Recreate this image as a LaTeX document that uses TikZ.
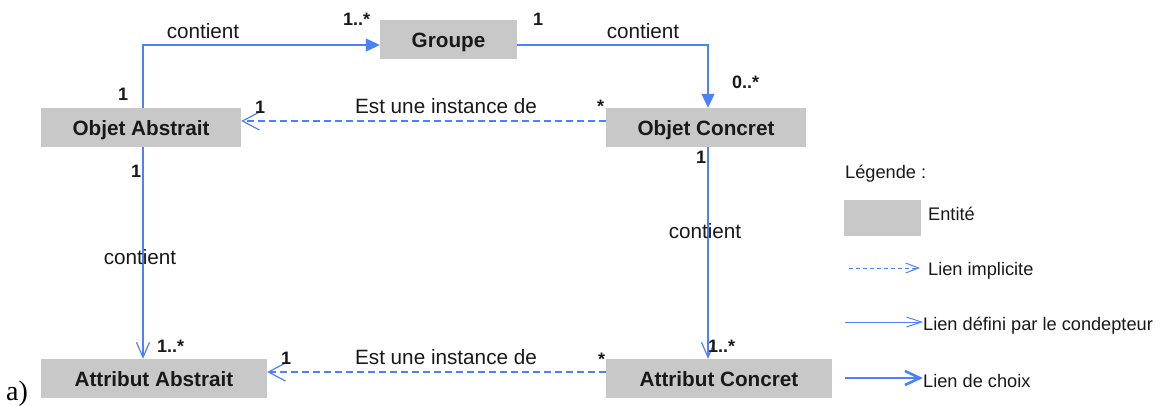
\documentclass[tikz,border=0pt]{standalone}
\usepackage{fontspec}
\setmainfont{Liberation Sans}
\newfontfamily\timesfont{Liberation Serif}
\usetikzlibrary{arrows.meta,positioning}
\definecolor{lienbleu}{RGB}{77,128,255}
\definecolor{entitegris}{RGB}{200,200,200}
\definecolor{texte}{RGB}{25,25,25}

\begin{document}
\begin{tikzpicture}[x=1pt, y=-1pt, text=texte,
  entite/.style={fill=entitegris, minimum height=39pt, inner sep=0pt,
    text height=15pt, text depth=0pt, font=\fontsize{20.7}{24}\selectfont\bfseries},
  lbl/.style={inner sep=0pt, anchor=base, font=\fontsize{20.7}{24}\selectfont},
  card/.style={inner sep=0pt, anchor=base west, font=\fontsize{18}{20}\selectfont\bfseries},
  leg/.style={inner sep=0pt, anchor=base west, font=\fontsize{18.2}{20}\selectfont},
  contient/.style={draw=lienbleu, line width=1.2pt, -{Triangle[length=14pt,width=13pt]}},
  defini/.style={draw=lienbleu, line width=1.2pt, -{Straight Barb[length=15pt,width=13pt]}},
  implicite/.style={draw=lienbleu, line width=1.2pt, dash pattern=on 7pt off 4pt,
    -{Straight Barb[length=17pt,width=18pt]}}]
  \useasboundingbox [fill=white] (0,0) rectangle (1161,405);

  % entites
  \node (groupe) [entite, minimum width=137pt] at (448.5,39.5) {Groupe};
  \node (oabs) [entite, minimum width=200pt] at (141,127.5) {Objet Abstrait};
  \node (ocon) [entite, minimum width=200pt] at (706,127.5) {Objet Concret};
  \node (aabs) [entite, minimum width=226pt] at (154,378.5) {Attribut Abstrait};
  \node (acon) [entite, minimum width=226pt] at (719,378.5) {Attribut Concret};

  % liens
  \draw [contient] ([xshift=2pt]oabs.north) |- ([yshift=-5.5pt]groupe.west);
  \draw [contient] ([yshift=-5.5pt]groupe.east) -| ([xshift=2pt]ocon.north);
  \draw [implicite] ([yshift=6.5pt]ocon.west) -- ([yshift=6.5pt]oabs.east);
  \draw [defini] ([xshift=2pt]oabs.south) -- ([xshift=2pt]oabs.south |- aabs.north);
  \draw [defini] ([xshift=2pt]ocon.south) -- ([xshift=2pt]ocon.south |- acon.north);
  \draw [implicite] ([yshift=6.5pt]acon.west) -- ([yshift=6.5pt]aabs.east);

  \node (cont1) [lbl] at (203,38) {contient};
  \node (cont2) [lbl] at (643,38) {contient};
  \node (cont3) [lbl] at (140,264) {contient};
  \node (cont4) [lbl] at (705,238) {contient};
  \node (inst1) [lbl] at (446,113) {Est une instance de};
  \node (inst2) [lbl] at (446,364) {Est une instance de};

  % cardinalites
  \node (m1) [card] at (343,25) {1..*};
  \node (m2) [card] at (533,25) {1};
  \node (m3) [card] at (732,88) {0..*};
  \node (m4) [card] at (118,100) {1};
  \node (m5) [card] at (255,113) {1};
  \node (m6) [card] at (597,112) {*};
  \node (m7) [card] at (131,177) {1};
  \node (m8) [card] at (696,163) {1};
  \node (m9) [card] at (157,352) {1..*};
  \node (m10) [card] at (281,364) {1};
  \node (m11) [card] at (598,365) {*};
  \node (m12) [card] at (708,352) {1..*};

  % legende
  \node (legtitre) [leg] at (845,178) {Légende :};
  \node (legboite) [fill=entitegris, minimum width=77pt, minimum height=36pt, inner sep=0pt] at (882.5,218) {};
  \node (legent) [leg] at (928,220) {Entité};
  \coordinate (imp1) at (849,268);
  \coordinate (imp2) at (920,268);
  \draw [implicite, dash pattern=on 4pt off 3pt, line width=1pt,
    -{Straight Barb[length=13pt,width=10pt]}] (imp1) -- (imp2);
  \node (legimp) [leg] at (928,275) {Lien implicite};
  \coordinate (def1) at (845,322);
  \coordinate (def2) at (923,322);
  \draw [defini, line width=1pt, -{Straight Barb[length=15pt,width=10pt]}] (def1) -- (def2);
  \node (legdef) [leg] at (923,330) {Lien défini par le condepteur};
  \coordinate (cho1) at (845,378);
  \coordinate (cho2) at (923,378);
  \draw [defini, line width=2.6pt, -{Straight Barb[length=15pt,width=14pt]}] (cho1) -- (cho2);
  \node (legcho) [leg] at (923,387) {Lien de choix};

  \node (etiq) [inner sep=0pt, anchor=base west, font=\timesfont\fontsize{28}{30}\selectfont, text=black] at (6,400) {a)};
\end{tikzpicture}
\end{document}
